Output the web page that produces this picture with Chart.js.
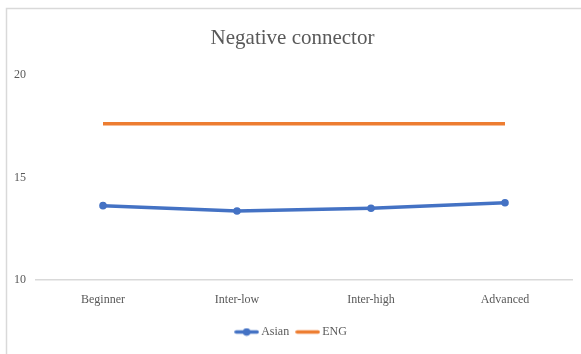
<!DOCTYPE html>
<html>
<head>
<meta charset="utf-8">
<script src="https://cdn.jsdelivr.net/npm/chart.js@4/dist/chart.umd.min.js"></script>
<style>
  html, body { margin: 0; padding: 0; background: #fff; }
  #wrap { width: 581px; height: 354px; position: relative; }
</style>
</head>
<body>
<div id="wrap"><canvas id="chart" width="581" height="354"></canvas></div>
<script>
// Chart data
const categories = ["Beginner", "Inter-low", "Inter-high", "Advanced"];
const asianValues = [13.63, 13.37, 13.5, 13.77];
const engValues = [17.63, 17.63, 17.63, 17.63];
const yTicks = [10, 15, 20];

const BLUE = "#4472C4";
const ORANGE = "#ED7D31";
const TEXT = "#595959";
const SERIF = "'Liberation Serif', 'Times New Roman', serif";

// Small legend swatches: a line, optionally with a round marker in the middle
function swatch(color, withDot) {
  const c = document.createElement("canvas");
  c.width = 25; c.height = 9;
  const g = c.getContext("2d");
  g.strokeStyle = color;
  g.lineWidth = 3.5;
  g.lineCap = "round";
  g.beginPath();
  g.moveTo(2, 4.5);
  g.lineTo(23, 4.5);
  g.stroke();
  if (withDot) {
    g.fillStyle = color;
    g.beginPath();
    g.arc(12.5, 4.5, 3.8, 0, Math.PI * 2);
    g.fill();
  }
  return c;
}
const swatches = [swatch(BLUE, true), swatch(ORANGE, false)];

// White background and the light frame around the chart
const framePlugin = {
  id: "frame",
  beforeDraw(chart) {
    const ctx = chart.ctx;
    ctx.save();
    ctx.fillStyle = "#fff";
    ctx.fillRect(0, 0, chart.width, chart.height);
    ctx.strokeStyle = "#d9d9d9";
    ctx.lineWidth = 1.5;
    ctx.strokeRect(6.5, 8.5, 700, 500);
    ctx.restore();
  }
};

new Chart(document.getElementById("chart"), {
  type: "line",
  data: {
    labels: categories,
    datasets: [
      {
        label: "Asian",
        data: asianValues,
        borderColor: BLUE,
        backgroundColor: BLUE,
        borderWidth: 3.5,
        pointRadius: 3.8,
        pointHoverRadius: 3.8,
        pointBackgroundColor: BLUE,
        pointBorderWidth: 0,
        tension: 0
      },
      {
        label: "ENG",
        data: engValues,
        borderColor: ORANGE,
        backgroundColor: ORANGE,
        borderWidth: 3.5,
        pointRadius: 0,
        tension: 0
      }
    ]
  },
  options: {
    responsive: false,
    animation: false,
    events: [],
    layout: { padding: { top: 12, right: 9, bottom: 6, left: 13 } },
    plugins: {
      title: {
        display: true,
        text: "Negative connector",
        color: TEXT,
        font: { family: SERIF, size: 21, weight: "normal" },
        padding: { top: 14, bottom: 24 }
      },
      legend: {
        position: "bottom",
        labels: {
          color: TEXT,
          font: { family: SERIF, size: 12 },
          usePointStyle: true,
          pointStyleWidth: 17,
          padding: 10,
          generateLabels(chart) {
            return chart.data.datasets.map((ds, i) => ({
              text: ds.label,
              fillStyle: ds.borderColor,
              strokeStyle: ds.borderColor,
              fontColor: TEXT,
              pointStyle: swatches[i],
              lineWidth: 0,
              hidden: false,
              datasetIndex: i
            }));
          }
        }
      },
      tooltip: { enabled: false }
    },
    scales: {
      x: {
        offset: true,
        afterFit(scale) { scale.height = 36; },
        grid: { display: false, drawTicks: false },
        border: { display: true, color: "#d9d9d9", width: 1.5 },
        ticks: {
          color: TEXT,
          font: { family: SERIF, size: 12 },
          padding: 13,
          maxRotation: 0
        }
      },
      y: {
        min: 10,
        max: 20,
        afterBuildTicks(scale) {
          scale.ticks = yTicks.map(v => ({ value: v }));
        },
        afterFit(scale) { scale.width = 23; },
        grid: { display: false, drawTicks: false },
        border: { display: false },
        ticks: {
          color: TEXT,
          font: { family: SERIF, size: 12 },
          padding: 10
        }
      }
    }
  },
  plugins: [framePlugin]
});
</script>
</body>
</html>
